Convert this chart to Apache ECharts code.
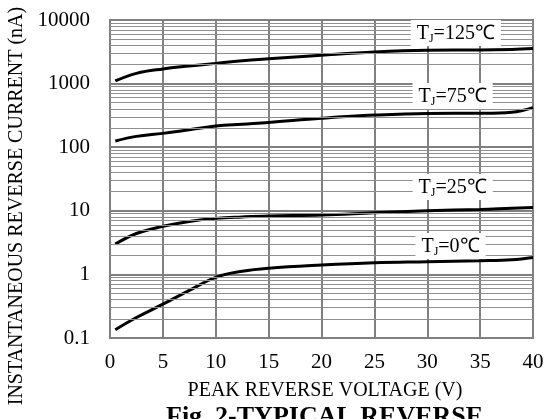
<!DOCTYPE html>
<html>
<head>
<meta charset="utf-8">
<script src="https://cdn.jsdelivr.net/npm/echarts@6/dist/echarts.min.js"></script>
<style>
  html, body { margin: 0; padding: 0; background: #fff; }
  #main { width: 550px; height: 419px; }
</style>
</head>
<body>
<div id="main"></div>
<script>
var FONT = '"Liberation Serif", "Times New Roman", serif';

// peak reverse voltage (V)
var voltage = [0.5, 2.5, 5, 7.5, 10, 12.5, 15, 20, 25, 30, 35, 38, 40];
// reverse current (nA) per junction temperature
var tj125 = [1100, 1450, 1700, 1890, 2080, 2280, 2450, 2800, 3150, 3350, 3380, 3450, 3550];
var tj75  = [125, 148, 165, 188, 215, 230, 245, 285, 320, 340, 342, 355, 420];
var tj25  = [3.0, 4.4, 5.7, 6.8, 7.6, 8.0, 8.3, 8.6, 9.3, 10, 10.5, 11, 11.3];
var tj0   = [0.135, 0.21, 0.34, 0.56, 0.9, 1.12, 1.25, 1.4, 1.52, 1.58, 1.64, 1.7, 1.85];

var seriesNames = ['125', '75', '25', '0'];
var seriesData = [tj125, tj75, tj25, tj0];
// label anchor (voltage, current) for each curve
var labelAt = [[32.7, 6250], [32.4, 640], [32.4, 23.7], [32.2, 2.8]];

// minor log grid lines 2..9 in each decade
var minorLines = [];
[0.1, 1, 10, 100, 1000].forEach(function (d) {
  for (var k = 2; k <= 9; k++) minorLines.push({ yAxis: +(d * k).toPrecision(3) });
});

function pairs(ys) {
  return voltage.map(function (x, i) { return [x, ys[i]]; });
}

var series = [{
  type: 'line',
  data: [],
  z: 1,
  silent: true,
  markLine: {
    silent: true,
    symbol: 'none',
    animation: false,
    label: { show: false },
    lineStyle: { color: '#8f8f8f', width: 1.2, type: 'solid' },
    data: minorLines
  }
}];

seriesNames.forEach(function (n, i) {
  series.push({
    name: n,
    type: 'line',
    smooth: 0.4,
    symbol: 'none',
    z: 3,
    lineStyle: { color: '#000', width: 3 },
    data: pairs(seriesData[i]),
    markPoint: {
      symbol: 'rect',
      symbolSize: 0,
      animation: false,
      data: [{ coord: labelAt[i] }],
      label: {
        show: true,
        position: 'inside',
        formatter: '{t|T}{s|J}{t|=' + n + '℃}',
        backgroundColor: '#fff',
        padding: [3, 6, 1, 6],
        rich: {
          t: { fontFamily: FONT, fontSize: 20, color: '#000', lineHeight: 22 },
          s: { fontFamily: FONT, fontSize: 12, color: '#000', lineHeight: 22, padding: [9, 0, 0, 0] }
        }
      }
    }
  });
});

var option = {
  animation: false,
  backgroundColor: '#fff',
  title: {
    text: 'Fig. 2-TYPICAL REVERSE',
    left: 166,
    top: 404,
    padding: 0,
    textStyle: { fontFamily: FONT, fontSize: 26, fontWeight: 'bold', color: '#000' }
  },
  grid: {
    left: 110, right: 17, top: 20, bottom: 81,
    outerBoundsMode: 'none',
    containLabel: false,
    show: true,
    borderColor: '#808080',
    borderWidth: 2
  },
  xAxis: {
    type: 'value',
    min: 0, max: 40, interval: 5,
    name: 'PEAK REVERSE VOLTAGE (V)',
    nameLocation: 'middle',
    nameGap: 43,
    nameTextStyle: { fontFamily: FONT, fontSize: 20, color: '#000', padding: [0, 0, 0, 7] },
    axisLine: { show: false },
    axisTick: { show: false },
    axisLabel: { fontFamily: FONT, fontSize: 21, color: '#000', margin: 14 },
    splitLine: { show: true, lineStyle: { color: '#808080', width: 2 } }
  },
  yAxis: {
    type: 'log',
    logBase: 10,
    min: 0.1, max: 10000,
    name: 'INSTANTANEOUS REVERSE CURRENT (nA)',
    nameLocation: 'middle',
    nameGap: 80,
    nameTextStyle: { fontFamily: FONT, fontSize: 20, color: '#000', padding: [0, 54, 0, 0] },
    axisLine: { show: false },
    axisTick: { show: false },
    axisLabel: {
      fontFamily: FONT, fontSize: 21, color: '#000', margin: 20,
      formatter: function (v) { return String(+v.toPrecision(3)); }
    },
    splitLine: { show: true, lineStyle: { color: '#808080', width: 2 } }
  },
  series: series
};

var myChart = echarts.init(document.getElementById('main'));
myChart.setOption(option);
</script>
</body>
</html>
